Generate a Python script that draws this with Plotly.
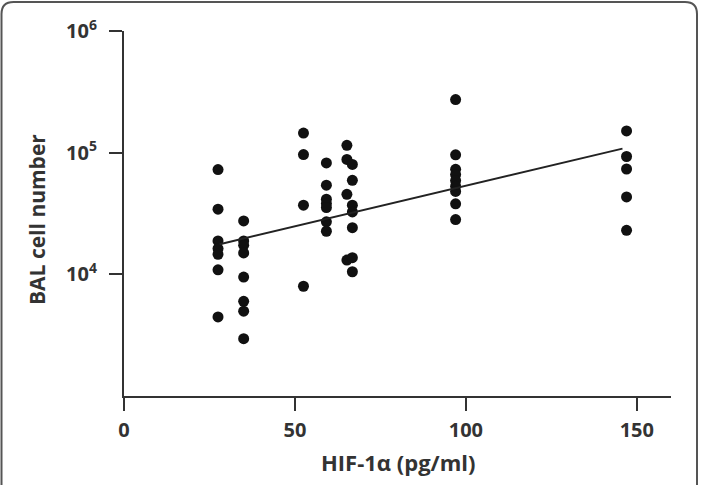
import plotly.graph_objects as go

# HIF-1alpha groups (pg/ml) and BAL cell numbers
g1_x = 27.5
g1_y = [72600, 34300, 18800, 16300, 14600, 10900, 4470]
g2_x = 35.0
g2_y = [27500, 18800, 17300, 15000, 9500, 6000, 4980, 2960]
g3_x = 52.5
g3_y = [145000, 96400, 37000, 7980]
g4_x = 59.2
g4_y = [82300, 54000, 41400, 38200, 35400, 27000, 22600]
g5a_x = 65.2
g5a_y = [115000, 88000, 45500, 13100]
g5b_x = 66.8
g5b_y = [80000, 59300, 37000, 32600, 24200, 13700, 10500]
g6_x = 97.0
g6_y = [273000, 96000, 73000, 66000, 59000, 53000, 48000, 38000, 28200]
g7_x = 147.0
g7_y = [151000, 93000, 73400, 43300, 23000]

fit_x = [28.0, 145.8]
fit_y = [17700, 108000]

x_ticks = [0, 50, 100, 150]
y_ticks = [1e4, 1e5, 1e6]
y_ticktext = ["10<sup>4</sup>", "10<sup>5</sup>", "10<sup>6</sup>"]

groups = [(g1_x, g1_y), (g2_x, g2_y), (g3_x, g3_y), (g4_x, g4_y),
          (g5a_x, g5a_y), (g5b_x, g5b_y), (g6_x, g6_y), (g7_x, g7_y)]
xs, ys = [], []
for gx, gy in groups:
    xs += [gx] * len(gy)
    ys += gy

fig = go.Figure()
fig.add_trace(go.Scatter(x=xs, y=ys, mode="markers",
                         marker=dict(size=11, color="#111111"),
                         showlegend=False))
fig.add_trace(go.Scatter(x=fit_x, y=fit_y, mode="lines",
                         line=dict(color="#222222", width=2),
                         showlegend=False))

W, H = 702, 485
L, R, T, B = 124, 31, 31, 89
pw, ph = W - L - R, H - T - B

def px(xp):
    return (xp - L) / pw

def py(yp):
    return (H - B - yp) / ph

x0, x1 = px(1.5), px(697)
y1, y0 = py(2), py(520)
rx, ry = 12 / pw, 12 / ph
path = (f"M {x0+rx},{y1} L {x1-rx},{y1} Q {x1},{y1} {x1},{y1-ry} "
        f"L {x1},{y0} L {x0},{y0} L {x0},{y1-ry} Q {x0},{y1} {x0+rx},{y1} Z")

font = dict(family="Open Sans", size=20, color="#333333", weight="bold")
ytitle_font = dict(family="Open Sans", size=21, color="#333333", weight="bold")
xtitle_font = dict(family="Open Sans", size=22, color="#333333", weight="bold")

fig.update_layout(
    width=W, height=H,
    margin=dict(l=L, r=R, t=T, b=B),
    paper_bgcolor="white", plot_bgcolor="white",
    font=font,
    shapes=[dict(type="path", xref="paper", yref="paper", path=path,
                 line=dict(color="#555555", width=2), layer="below")],
    annotations=[
        dict(text="BAL cell number", xref="paper", yref="paper",
             x=px(37), y=py(220), xanchor="center", yanchor="middle",
             textangle=-90, showarrow=False, font=ytitle_font),
        dict(text="HIF-1α (pg/ml)", xref="paper", yref="paper",
             x=px(398), y=py(462), xanchor="center", yanchor="middle",
             showarrow=False, font=xtitle_font),
    ],
    xaxis=dict(range=[0, 160], tickvals=x_ticks, ticks="outside", ticklen=13,
               tickwidth=2, tickcolor="#333333", showline=True, linewidth=2,
               linecolor="#333333", showgrid=False, zeroline=False,
               ticklabelstandoff=2, tickfont=font),
    yaxis=dict(type="log", range=[3, 6], tickvals=y_ticks, ticktext=y_ticktext,
               ticks="outside", ticklen=13, tickwidth=2, tickcolor="#333333",
               showline=True, linewidth=2, linecolor="#333333", showgrid=False,
               zeroline=False, ticklabelstandoff=8, tickfont=font),
)

fig.write_html("out.html")
